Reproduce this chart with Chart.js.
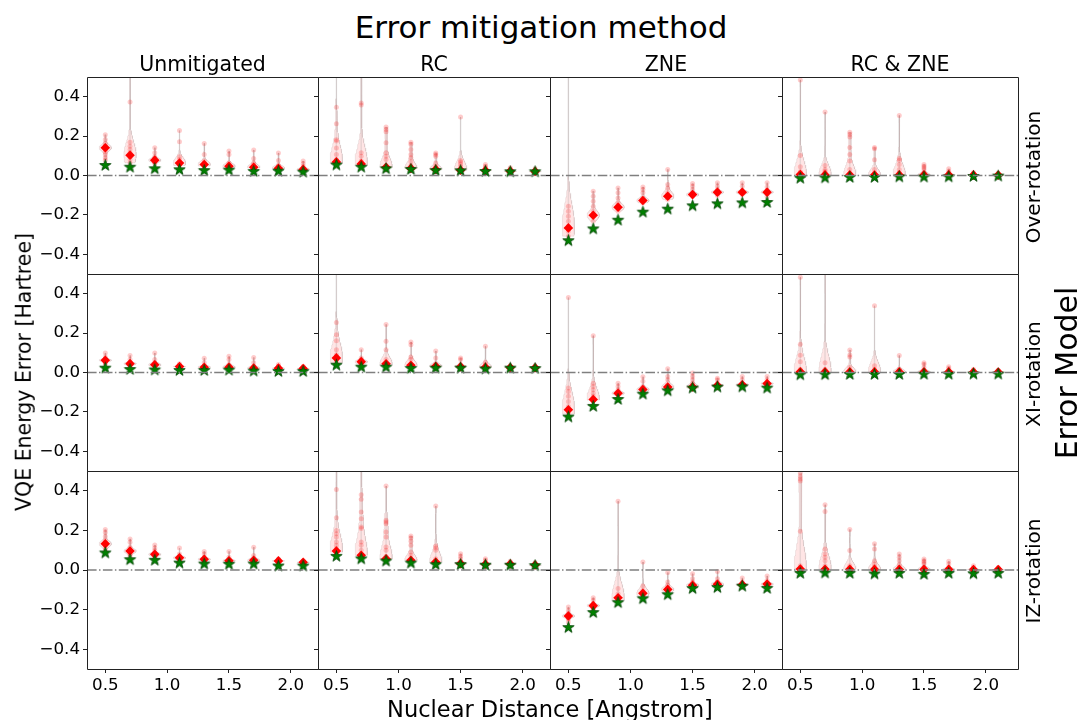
<!DOCTYPE html>
<html>
<head>
<meta charset="utf-8">
<script src="https://cdn.jsdelivr.net/npm/chart.js@4.4.1/dist/chart.umd.min.js"></script>
<style>
  body { margin: 0; background: #fff; font-family: 'DejaVu Sans', sans-serif; }
  #fig { position: relative; width: 1082px; height: 720px; overflow: hidden; background: #fff; }
  .panel { position: absolute; }
  .label { position: absolute; white-space: nowrap; color: #000; line-height: 1; }
</style>
</head>
<body>
<div id="fig"></div>
<script>
/**
 * Violin grid: VQE energy error vs nuclear distance,
 * one panel per error model (rows) and mitigation method (columns)
 */

const distances = [0.5, 0.7, 0.9, 1.1, 1.3, 1.5, 1.7, 1.9, 2.1];
const xTicks = [0.5, 1.0, 1.5, 2.0];
const yTicks = [-0.4, -0.2, 0.0, 0.2, 0.4];
const methods = ['Unmitigated', 'RC', 'ZNE', 'RC & ZNE'];
const errorModels = ['Over-rotation', 'XI-rotation', 'IZ-rotation'];
// runs piled up under each mean marker (the dense red blob)
const runsAtMean = 12;

// --- Over-rotation ---
const overUnmitMean = [0.141, 0.103, 0.078, 0.063, 0.056, 0.047, 0.042, 0.037, 0.031];
const overUnmitIdeal = [0.051, 0.042, 0.034, 0.029, 0.025, 0.027, 0.020, 0.022, 0.017];
const overUnmitSamples = [
  [0.207, 0.183, 0.163, 0.150, 0.140, 0.132, 0.120, 0.107, 0.090, 0.078],
  [0.56, 0.373, 0.169, 0.149, 0.132, 0.115, 0.103, 0.095, 0.081, 0.064],
  [0.141, 0.115, 0.095, 0.085, 0.078, 0.070, 0.060],
  [0.229, 0.171, 0.095, 0.081, 0.068, 0.060, 0.050],
  [0.163, 0.107, 0.073, 0.061, 0.055, 0.048],
  [0.124, 0.107, 0.064, 0.056, 0.048, 0.040],
  [0.129, 0.086, 0.064, 0.053, 0.045, 0.038],
  [0.114, 0.076, 0.051, 0.042, 0.035],
  [0.073, 0.061, 0.047, 0.035, 0.028]
];

const overRcMean = [0.069, 0.059, 0.042, 0.036, 0.031, 0.027, 0.025, 0.022, 0.020];
const overRcIdeal = [0.053, 0.042, 0.034, 0.031, 0.025, 0.024, 0.020, 0.019, 0.019];
const overRcSamples = [
  [0.56, 0.347, 0.263, 0.181, 0.175, 0.140, 0.107, 0.081, 0.070, 0.060],
  [0.58, 0.368, 0.358, 0.115, 0.098, 0.073, 0.060, 0.050],
  [0.246, 0.234, 0.222, 0.166, 0.115, 0.098, 0.081, 0.050, 0.040],
  [0.169, 0.158, 0.132, 0.107, 0.090, 0.070, 0.050, 0.040],
  [0.114, 0.107, 0.098, 0.064, 0.047, 0.035, 0.030],
  [0.297, 0.076, 0.069, 0.059, 0.047, 0.030],
  [0.056, 0.047, 0.039, 0.030, 0.025],
  [0.039, 0.030, 0.025, 0.020],
  [0.034, 0.027, 0.022, 0.018]
];

const overZneMean = [-0.266, -0.202, -0.161, -0.127, -0.105, -0.097, -0.085, -0.085, -0.085];
const overZneIdeal = [-0.331, -0.271, -0.227, -0.186, -0.171, -0.154, -0.144, -0.139, -0.137];
const overZneSamples = [
  [0.56, -0.156, -0.181, -0.207, -0.232, -0.258, -0.270, -0.283, -0.308],
  [-0.080, -0.105, -0.131, -0.156, -0.181, -0.200, -0.207, -0.232],
  [-0.063, -0.088, -0.114, -0.139, -0.150, -0.164, -0.181],
  [-0.058, -0.071, -0.088, -0.114, -0.125, -0.139],
  [0.031, -0.046, -0.063, -0.088, -0.100, -0.122],
  [-0.041, -0.054, -0.071, -0.090, -0.105],
  [-0.037, -0.054, -0.071, -0.085, -0.102],
  [-0.037, -0.054, -0.075, -0.085, -0.097],
  [-0.037, -0.058, -0.075, -0.085, -0.105]
];

const overBothMean = [0.005, 0.003, 0.003, 0.002, 0.003, 0.003, 0.003, 0.002, 0.002];
const overBothIdeal = [-0.014, -0.012, -0.010, -0.010, -0.007, -0.008, -0.007, -0.005, -0.003];
const overBothSamples = [
  [0.485, 0.102, 0.044, 0.020, 0.014, 0.005, 0.000],
  [0.322, 0.051, 0.030, 0.022, 0.014, 0.005],
  [0.220, 0.208, 0.196, 0.142, 0.107, 0.073, 0.030, 0.010, 0.000],
  [0.142, 0.136, 0.080, 0.030, 0.014, 0.000],
  [0.305, 0.086, 0.078, 0.056, 0.030, 0.014, 0.000],
  [0.056, 0.047, 0.039, 0.030, 0.014, 0.000],
  [0.034, 0.022, 0.014, 0.005],
  [0.017, 0.008, 0.002],
  [0.010, 0.005, 0.000]
];

// --- XI-rotation ---
const xiUnmitMean = [0.062, 0.045, 0.039, 0.030, 0.027, 0.027, 0.022, 0.022, 0.020];
const xiUnmitIdeal = [0.022, 0.015, 0.013, 0.010, 0.010, 0.012, 0.007, 0.005, 0.005];
const xiUnmitSamples = [
  [0.099, 0.079, 0.069, 0.060, 0.049, 0.040],
  [0.086, 0.066, 0.050, 0.040, 0.032],
  [0.099, 0.066, 0.049, 0.040, 0.030],
  [0.044, 0.035, 0.030, 0.022],
  [0.072, 0.049, 0.032, 0.022],
  [0.082, 0.066, 0.040, 0.030, 0.022],
  [0.076, 0.049, 0.032, 0.020],
  [0.040, 0.032, 0.020, 0.015],
  [0.032, 0.024, 0.016]
];

const xiRcMean = [0.074, 0.055, 0.044, 0.037, 0.032, 0.029, 0.027, 0.025, 0.024];
const xiRcIdeal = [0.037, 0.027, 0.027, 0.020, 0.022, 0.022, 0.018, 0.022, 0.020];
const xiRcSamples = [
  [0.56, 0.254, 0.192, 0.161, 0.116, 0.090, 0.066, 0.050],
  [0.116, 0.074, 0.050, 0.040],
  [0.244, 0.158, 0.116, 0.066, 0.050, 0.035],
  [0.155, 0.141, 0.079, 0.066, 0.040, 0.030],
  [0.109, 0.074, 0.040, 0.030],
  [0.074, 0.066, 0.040, 0.030],
  [0.133, 0.052, 0.040, 0.025],
  [0.032, 0.025, 0.020],
  [0.029, 0.022, 0.018]
];

const xiZneMean = [-0.189, -0.137, -0.105, -0.086, -0.074, -0.073, -0.066, -0.062, -0.056];
const xiZneIdeal = [-0.226, -0.172, -0.137, -0.110, -0.093, -0.079, -0.074, -0.073, -0.079];
const xiZneSamples = [
  [0.381, -0.079, -0.096, -0.121, -0.147, -0.172, -0.197, -0.210],
  [0.187, -0.054, -0.071, -0.088, -0.105, -0.121, -0.140],
  [-0.054, -0.071, -0.088, -0.100, -0.115],
  [-0.022, -0.045, -0.071, -0.085, -0.095],
  [0.019, -0.020, -0.037, -0.062, -0.075, -0.085],
  [-0.003, -0.020, -0.037, -0.054, -0.070, -0.080],
  [-0.029, -0.037, -0.054, -0.066, -0.075],
  [-0.020, -0.037, -0.054, -0.062, -0.072],
  [-0.020, -0.037, -0.054, -0.060, -0.068]
];

const xiBothMean = [0.004, 0.003, 0.003, 0.003, 0.003, 0.003, 0.003, 0.002, 0.002];
const xiBothIdeal = [-0.012, -0.011, -0.010, -0.010, -0.010, -0.009, -0.009, -0.008, -0.008];
const xiBothSamples = [
  [0.483, 0.143, 0.088, 0.054, 0.017, 0.008, 0.000],
  [0.56, 0.050, 0.017, 0.008, 0.000],
  [0.114, 0.089, 0.079, 0.025, 0.008, 0.000],
  [0.339, 0.034, 0.017, 0.008, 0.000],
  [0.086, 0.017, 0.008, 0.000],
  [0.050, 0.042, 0.025, 0.008, 0.000],
  [0.029, 0.022, 0.008, 0.000],
  [0.017, 0.008, 0.000],
  [0.012, 0.005, 0.000]
];

// --- IZ-rotation ---
const izUnmitMean = [0.132, 0.096, 0.079, 0.062, 0.054, 0.047, 0.049, 0.046, 0.039];
const izUnmitIdeal = [0.086, 0.052, 0.049, 0.035, 0.030, 0.029, 0.030, 0.020, 0.020];
const izUnmitSamples = [
  [0.204, 0.190, 0.169, 0.148, 0.130, 0.106, 0.090],
  [0.157, 0.140, 0.115, 0.100, 0.081, 0.070],
  [0.126, 0.111, 0.098, 0.080, 0.064],
  [0.111, 0.081, 0.064, 0.056, 0.045],
  [0.093, 0.081, 0.064, 0.047, 0.040],
  [0.094, 0.064, 0.047, 0.040, 0.035],
  [0.115, 0.073, 0.047, 0.040, 0.035],
  [0.056, 0.047, 0.039, 0.032],
  [0.047, 0.040, 0.034, 0.030]
];

const izRcMean = [0.096, 0.074, 0.057, 0.049, 0.040, 0.032, 0.029, 0.030, 0.025];
const izRcIdeal = [0.069, 0.056, 0.045, 0.035, 0.027, 0.027, 0.024, 0.024, 0.022];
const izRcSamples = [
  [0.56, 0.407, 0.264, 0.200, 0.183, 0.167, 0.141, 0.125, 0.108, 0.090],
  [0.56, 0.380, 0.357, 0.293, 0.259, 0.217, 0.209, 0.141, 0.125, 0.100, 0.080],
  [0.424, 0.251, 0.242, 0.234, 0.192, 0.167, 0.116, 0.100, 0.070],
  [0.172, 0.162, 0.145, 0.125, 0.091, 0.074, 0.050],
  [0.323, 0.121, 0.111, 0.100, 0.057, 0.040],
  [0.082, 0.070, 0.057, 0.040, 0.030],
  [0.057, 0.049, 0.035, 0.025],
  [0.044, 0.035, 0.025],
  [0.037, 0.030, 0.022]
];

const izZneMean = [-0.232, -0.180, -0.140, -0.118, -0.098, -0.077, -0.072, -0.074, -0.071];
const izZneIdeal = [-0.291, -0.215, -0.165, -0.145, -0.125, -0.094, -0.089, -0.082, -0.093];
const izZneSamples = [
  [-0.187, -0.204, -0.220, -0.240, -0.246, -0.263],
  [-0.140, -0.153, -0.170, -0.195, -0.200],
  [0.347, -0.094, -0.120, -0.137, -0.153],
  [0.040, -0.081, -0.103, -0.120, -0.130],
  [-0.013, -0.061, -0.077, -0.094, -0.110],
  [-0.019, -0.044, -0.061, -0.077, -0.090],
  [-0.007, -0.044, -0.061, -0.077, -0.085],
  [-0.040, -0.061, -0.077, -0.085],
  [-0.030, -0.052, -0.077, -0.090]
];

const izBothMean = [0.005, 0.004, 0.004, 0.003, 0.003, 0.003, 0.003, 0.002, 0.002];
const izBothIdeal = [-0.017, -0.015, -0.017, -0.020, -0.017, -0.022, -0.017, -0.019, -0.017];
const izBothSamples = [
  [0.49, 0.472, 0.460, 0.449, 0.196, 0.022, 0.013, 0.005],
  [0.329, 0.295, 0.106, 0.081, 0.064, 0.047, 0.022, 0.005],
  [0.204, 0.098, 0.022, 0.013, 0.005],
  [0.132, 0.106, 0.047, 0.030, 0.017, 0.005],
  [0.081, 0.064, 0.047, 0.027, 0.013, 0.005],
  [0.056, 0.047, 0.039, 0.030, 0.013, 0.005],
  [0.044, 0.030, 0.013, 0.005],
  [0.022, 0.010, 0.003],
  [0.013, 0.007, 0.002]
];

const meanTable = [
  [overUnmitMean, overRcMean, overZneMean, overBothMean],
  [xiUnmitMean, xiRcMean, xiZneMean, xiBothMean],
  [izUnmitMean, izRcMean, izZneMean, izBothMean]
];
const idealTable = [
  [overUnmitIdeal, overRcIdeal, overZneIdeal, overBothIdeal],
  [xiUnmitIdeal, xiRcIdeal, xiZneIdeal, xiBothIdeal],
  [izUnmitIdeal, izRcIdeal, izZneIdeal, izBothIdeal]
];
const sampleTable = [
  [overUnmitSamples, overRcSamples, overZneSamples, overBothSamples],
  [xiUnmitSamples, xiRcSamples, xiZneSamples, xiBothSamples],
  [izUnmitSamples, izRcSamples, izZneSamples, izBothSamples]
];

// layout (pixels) of the plot areas
const colLeft = [87, 318, 550, 782];
const colWidth = [231, 232, 232, 236];
const colXMax = [2.22, 2.22, 2.22, 2.26];
const rowTop = [77, 274, 471];
const rowHeight = [197, 197, 198];
const ML = 60, MT = 20, MR = 12, MB = 40;
const X_MIN = 0.352;
const HALF_WIDTH = 0.05;

Chart.defaults.font.family = "'DejaVu Sans', sans-serif";
Chart.defaults.font.size = 16.7;
Chart.defaults.color = '#000';

const fig = document.getElementById('fig');

/** filled green star used as point style for the ideal values */
function starImage(r) {
  const c = document.createElement('canvas');
  const s = Math.ceil(r * 2 + 3);
  c.width = c.height = s;
  const g = c.getContext('2d');
  g.translate(s / 2, s / 2);
  g.beginPath();
  for (let i = 0; i < 10; i++) {
    const rad = i % 2 ? r * 0.4 : r;
    const a = -Math.PI / 2 + i * Math.PI / 5;
    g.lineTo(rad * Math.cos(a), rad * Math.sin(a));
  }
  g.closePath();
  g.fillStyle = '#008000';
  g.fill();
  g.lineWidth = 0.8;
  g.strokeStyle = '#004000';
  g.stroke();
  return c;
}
const STAR = starImage(6);

/** gaussian KDE (Scott's rule) outline of one violin, in data units */
function violinOutline(pos, vals) {
  const n = vals.length;
  const avg = vals.reduce((a, b) => a + b, 0) / n;
  const sd = Math.sqrt(vals.reduce((a, b) => a + (b - avg) ** 2, 0) / (n - 1)) || 0.01;
  const bw = sd * Math.pow(n, -0.2);
  const lo = Math.min(...vals), hi = Math.max(...vals);
  const ys = [], ds = [];
  for (let i = 0; i <= 100; i++) {
    const y = lo + (hi - lo) * i / 100;
    let d = 0;
    vals.forEach(v => { d += Math.exp(-0.5 * ((y - v) / bw) ** 2); });
    ys.push(y);
    ds.push(d);
  }
  const peak = Math.max(...ds);
  const left = ys.map((y, i) => ({ x: pos - HALF_WIDTH * ds[i] / peak, y }));
  const right = ys.map((y, i) => ({ x: pos + HALF_WIDTH * ds[i] / peak, y })).reverse();
  return left.concat(right, [left[0]]);
}

const framePlugin = {
  id: 'frame',
  afterDraw(chart) {
    const { ctx, chartArea: a } = chart;
    const l = Math.round(a.left) + 0.5, t = Math.round(a.top) + 0.5;
    const rr = Math.round(a.right) + 0.5, b = Math.round(a.bottom) + 0.5;
    ctx.save();
    ctx.strokeStyle = '#222';
    ctx.lineWidth = 1;
    ctx.beginPath();
    ctx.moveTo(l, t); ctx.lineTo(rr, t); ctx.lineTo(rr, b); ctx.lineTo(l, b);
    ctx.closePath();
    ctx.stroke();
    ctx.restore();
  }
};

const fmt = v => (v < 0 ? '\u2212' : '') + Math.abs(v).toFixed(1);

function buildPanel(r, c) {
  const w = colWidth[c] + ML + MR;
  const h = rowHeight[r] + MT + MB;
  const host = document.createElement('div');
  host.className = 'panel';
  host.style.left = (colLeft[c] - ML) + 'px';
  host.style.top = (rowTop[r] - MT) + 'px';
  host.style.width = w + 'px';
  host.style.height = h + 'px';
  const canvas = document.createElement('canvas');
  canvas.width = w;
  canvas.height = h;
  host.appendChild(canvas);
  fig.appendChild(host);

  const means = meanTable[r][c];
  const ideals = idealTable[r][c];
  const runs = sampleTable[r][c].map((vals, i) => vals.concat(Array(runsAtMean).fill(means[i])));
  const datasets = [];

  // zero reference line (on top)
  datasets.push({
    data: [{ x: X_MIN, y: 0 }, { x: colXMax[c], y: 0 }],
    showLine: true, pointRadius: 0,
    borderColor: '#7f7f7f', borderWidth: 1.5,
    borderDash: [9.6, 2.4, 1.5, 2.4],
    order: 0
  });

  datasets.push({
    data: distances.map((d, i) => ({ x: d, y: ideals[i] })),
    pointStyle: STAR, pointRadius: 6,
    order: 1
  });

  datasets.push({
    data: distances.map((d, i) => ({ x: d, y: means[i] })),
    pointStyle: 'rectRot', pointRadius: 4.8,
    backgroundColor: '#ff0000', borderColor: '#ff0000', borderWidth: 0,
    order: 2
  });

  const pts = [];
  distances.forEach((d, i) => runs[i].forEach(v => pts.push({ x: d, y: v })));
  datasets.push({
    data: pts,
    pointRadius: 2.5,
    backgroundColor: 'rgba(255,0,0,0.2)', borderWidth: 0,
    order: 3
  });

  distances.forEach((d, i) => {
    const vals = runs[i];
    datasets.push({
      data: [{ x: d, y: Math.min(...vals) }, { x: d, y: Math.max(...vals) }],
      showLine: true, pointRadius: 0,
      borderColor: 'rgba(140,140,140,0.2)', borderWidth: 1.5,
      order: 4
    });
    datasets.push({
      data: violinOutline(d, vals),
      showLine: true, pointRadius: 0, fill: 'shape',
      backgroundColor: 'rgba(255,0,0,0.1)',
      borderColor: 'rgba(150,110,110,0.14)', borderWidth: 1,
      order: 5
    });
  });

  const bottomRow = r === errorModels.length - 1;
  new Chart(canvas, {
    type: 'scatter',
    data: { datasets },
    options: {
      responsive: false,
      animation: false,
      events: [],
      layout: { padding: { left: 0, top: MT, right: MR, bottom: 0 } },
      plugins: { legend: { display: false }, tooltip: { enabled: false } },
      scales: {
        x: {
          type: 'linear', min: X_MIN, max: colXMax[c],
          afterBuildTicks: s => { s.ticks = xTicks.map(v => ({ value: v })); },
          afterFit: s => { s.height = MB; },
          border: { display: false },
          grid: { display: true, drawOnChartArea: false, drawTicks: bottomRow, tickLength: 4, color: '#222' },
          ticks: { display: bottomRow, padding: 3, maxRotation: 0, callback: fmt }
        },
        y: {
          type: 'linear', min: -0.5, max: 0.5,
          afterBuildTicks: s => { s.ticks = yTicks.map(v => ({ value: v })); },
          afterFit: s => { s.width = ML; },
          border: { display: false },
          grid: { display: true, drawOnChartArea: false, drawTicks: true, tickLength: 4, color: '#222' },
          ticks: { display: c === 0, padding: 3, callback: fmt }
        }
      }
    },
    plugins: [framePlugin]
  });
}

function addText(txt, cx, cy, size, rotate) {
  const d = document.createElement('div');
  d.className = 'label';
  d.textContent = txt;
  d.style.fontSize = size + 'px';
  d.style.left = cx + 'px';
  d.style.top = cy + 'px';
  d.style.transform = 'translate(-50%,-50%)' + (rotate ? ' rotate(-90deg)' : '');
  fig.appendChild(d);
}

errorModels.forEach((m, r) => methods.forEach((_, c) => buildPanel(r, c)));

addText('Error mitigation method', 541, 27, 31);
methods.forEach((m, c) => addText(m, colLeft[c] + colWidth[c] / 2, 64, 20.5));
errorModels.forEach((m, r) => addText(m, 1033, rowTop[r] + rowHeight[r] / 2 + 1, 20, true));
addText('Error Model', 1067, 373, 30, true);
addText('VQE Energy Error [Hartree]', 24, 372, 20.5, true);
addText('Nuclear Distance [Angstrom]', 550, 709, 22.5);
</script>
</body>
</html>
